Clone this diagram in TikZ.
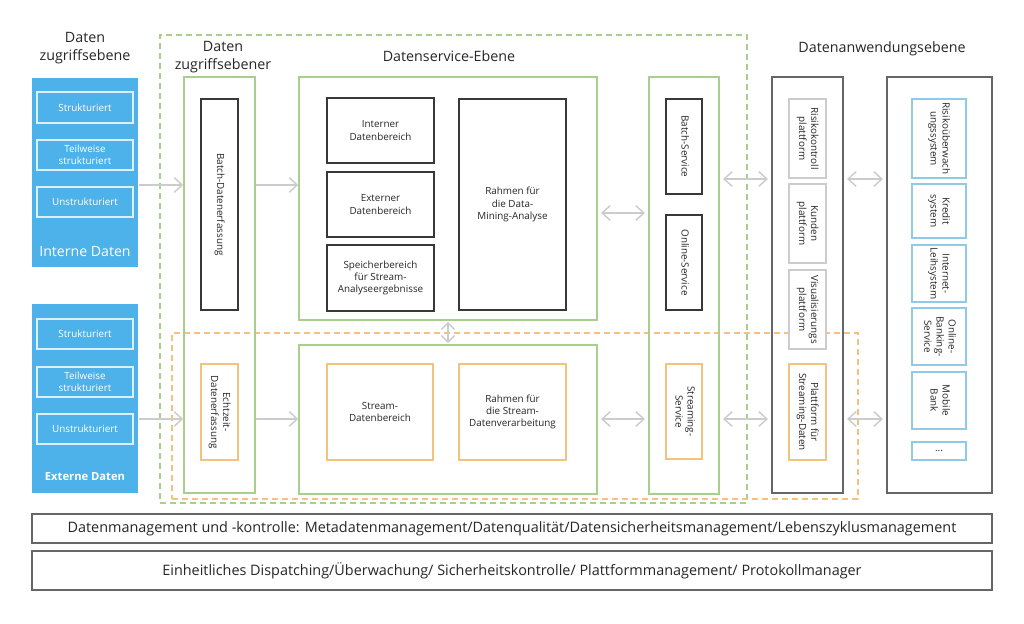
\documentclass[tikz,border=0pt]{standalone}
\usepackage{fontspec}
\setmainfont{Open Sans}
\usepackage{graphicx}
\usetikzlibrary{arrows.meta}
\definecolor{sourceblue}{HTML}{4DB2E9}
\definecolor{zonegreen}{HTML}{A8CF8C}
\definecolor{streamorange}{HTML}{F3C27E}
\definecolor{systemblue}{HTML}{8FCBE7}
\colorlet{border}{black!78}
\colorlet{frame}{black!60}
\colorlet{soft}{black!20}
\colorlet{connector}{black!20}
\colorlet{annotation}{black!85}
\newcommand\labelfont{\fontsize{7.4}{9.1}\selectfont}
\newcommand\titlefont{\fontsize{10.7}{13.5}\selectfont}
\newcommand\barfont{\fontsize{10.8}{12}\selectfont}
\newcommand\turned[1]{\rotatebox{-90}{\begin{tabular}{@{}c@{}}#1\end{tabular}}}
\newcommand\tip{Straight Barb[length=6pt, width=11pt]}

\begin{document}
\begin{tikzpicture}[x=0.75pt, y=-0.75pt, line width=0.9pt]
    \tikzset{
        % box from its two corners, in pixels
        spot/.style n args={4}{
            minimum width={(#3-#1)*0.75pt},
            minimum height={(#4-#2)*0.75pt},
            at={({(#1+#3)/2}, {(#2+#4)/2})},
        },
        source panel/.style={
            fill=sourceblue, draw=none,
            inner sep=0pt,
        },
        source box/.style={
            draw=white!80!sourceblue, text=white,
            inner sep=0pt, align=center,
            font=\labelfont,
        },
        panel caption/.style={
            text=white, inner sep=0pt,
        },
        zone/.style={
            draw=zonegreen, line width=1.1pt,
            inner sep=0pt,
        },
        zone frame/.style={
            draw=#1, dash pattern=on 4.5pt off 3pt,
            inner sep=0pt,
        },
        store/.style={
            draw=border, fill=white,
            inner sep=0pt, align=center,
            text=annotation, font=\labelfont,
        },
        stream store/.style={store, draw=streamorange},
        platform/.style={store, draw=soft},
        system/.style={store, draw=systemblue},
        app frame/.style={
            draw=frame, line width=1.1pt,
            inner sep=0pt,
        },
        layer title/.style={
            align=center, text=annotation,
            font=\titlefont,
        },
        bar/.style={
            draw=frame, line width=1.1pt,
            inner sep=0pt, text=annotation,
            font=\barfont,
        },
        flow/.style={
            draw=connector, line width=1.1pt,
            -{\tip},
        },
        both ways/.style={
            flow, {\tip}-{\tip},
            shorten <=2.5pt, shorten >=2.5pt,
        },
    }

    \useasboundingbox (0, 0) rectangle (1024, 624);

    % Dashed zones
    \node[zone frame=zonegreen, spot={160}{35}{747}{503}] (service-zone) {};
    \node[zone frame=streamorange, spot={172}{333}{858}{499}] (realtime-zone) {};

    % Sources
    \node[layer title] (source-title) at (85, 48) {Daten\\zugriffsebene};

    \node[source panel, spot={32}{78}{138}{267}] (intern-panel) {};
    \node[source box, spot={37}{92}{133}{123}] (intern-s) {Strukturiert};
    \node[source box, spot={37}{140}{133}{170}] (intern-t) {Teilweise\\strukturiert};
    \node[source box, spot={37}{187}{133}{217}] (intern-u) {Unstrukturiert};
    \node[panel caption, font=\fontsize{10.6}{12}\selectfont]
        (intern-caption) at (85, 252) {Interne Daten};

    \node[source panel, spot={32}{304}{138}{493}] (extern-panel) {};
    \node[source box, spot={37}{319}{133}{349}] (extern-s) {Strukturiert};
    \node[source box, spot={37}{367}{133}{397}] (extern-t) {Teilweise\\strukturiert};
    \node[source box, spot={37}{414}{133}{444}] (extern-u) {Unstrukturiert};
    \node[panel caption, font=\bfseries\fontsize{8.4}{10}\selectfont]
        (extern-caption) at (85, 477) {Externe Daten};

    % Access layer
    \node[layer title] (access-title) at (223, 57) {Daten\\zugriffsebener};
    \node[zone, spot={184}{77}{255}{493}] (access-col) {};
    \node[store, spot={201}{99}{238}{310}] (batch-capture)
        {\turned{Batch-Datenerfassung}};
    \node[stream store, spot={201}{364}{238}{460}] (realtime-capture)
        {\turned{Echtzeit-\\Datenerfassung}};

    % Data service layer
    \node[layer title] (service-title) at (449, 56) {Datenservice-Ebene};
    \node[zone, spot={299}{77}{597}{320}] (batch-zone) {};
    \node[store, spot={327}{98}{434}{163}] (internal-area) {Interner\\Datenbereich};
    \node[store, spot={327}{172}{434}{237}] (external-area) {Externer\\Datenbereich};
    \node[store, spot={327}{245}{434}{311}] (result-area)
        {Speicherbereich\\für Stream-\\Analyseergebnisse};
    \node[store, spot={459}{99}{566}{310}] (mining-frame)
        {Rahmen für\\die Data-\\Mining-Analyse};

    \node[zone, spot={299}{345}{597}{494}] (stream-zone) {};
    \node[stream store, spot={327}{364}{433}{460}] (stream-area) {Stream-\\Datenbereich};
    \node[stream store, spot={459}{364}{566}{460}] (stream-frame)
        {Rahmen für\\die Stream-\\Datenverarbeitung};

    \node[zone, spot={649}{77}{719}{494}] (service-col) {};
    \node[store, spot={666}{99}{702}{194}] (batch-service) {\turned{Batch-Service}};
    \node[store, spot={666}{215}{702}{310}] (online-service) {\turned{Online-Service}};
    \node[stream store, spot={666}{364}{702}{459}] (streaming-service)
        {\turned{Streaming-\\Service}};

    % Application layer
    \node[layer title] (app-title) at (882, 49) {Datenanwendungsebene};
    \node[app frame, spot={772}{77}{843}{493}] (app-left) {};
    \node[platform, spot={789}{99}{826}{178}] (risk-platform) {\turned{Risikokontroll\\plattform}};
    \node[platform, spot={789}{184}{826}{263}] (customer-platform) {\turned{Kunden\\plattform}};
    \node[platform, spot={789}{270}{826}{349}] (visual-platform)
        {\turned{Visualisierungs\\plattform}};
    \node[stream store, spot={789}{364}{826}{460}] (stream-platform)
        {\turned{Plattform für\\Streaming-Daten}};

    \node[app frame, spot={887}{77}{992}{493}] (app-right) {};
    \node[system, spot={912}{99}{966}{178}] (risk-system) {\turned{Risikoüberwach\\ungssystem}};
    \node[system, spot={912}{184}{966}{238}] (credit-system) {\turned{Kredit\\system}};
    \node[system, spot={912}{245}{966}{302}] (lending-system) {\turned{Internet-\\Leihsystem}};
    \node[system, spot={912}{308}{966}{365}] (banking-service)
        {\turned{Online-\\Banking-\\Service}};
    \node[system, spot={912}{372}{966}{429}] (mobile-bank) {\turned{Mobile\\Bank}};
    \node[system, spot={912}{442}{966}{460}] (more-systems) {...};

    % Management bars
    \node[bar, spot={32}{514}{992}{543}] (management-bar)
        {Datenmanagement und -kontrolle: Metadatenmanagement/Datenqualität/Datensicherheitsmanagement/Lebenszyklusmanagement};
    \node[bar, spot={32}{551}{992}{590}] (operations-bar)
        {Einheitliches Dispatching/Überwachung/ Sicherheitskontrolle/ Plattformmanagement/ Protokollmanager};

    % Connectors
    \coordinate (batch-row) at (0, 185);
    \coordinate (stream-row) at (0, 419);
    \coordinate (service-row) at (0, 213);
    \coordinate (app-row) at (0, 179);

    \draw[flow] (intern-panel.east |- batch-row) -- (access-col.west |- batch-row);
    \draw[flow] (extern-panel.east |- stream-row) -- (access-col.west |- stream-row);
    \draw[flow] (access-col.east |- batch-row) -- (batch-zone.west |- batch-row);
    \draw[flow] (access-col.east |- stream-row) -- (stream-zone.west |- stream-row);

    \draw[both ways, shorten <=0.8pt, shorten >=0.8pt,
        {Straight Barb[length=5pt, width=10pt]}-{Straight Barb[length=5pt, width=10pt]}]
        (batch-zone.south) -- (stream-zone.north);
    \draw[both ways] (batch-zone.east |- service-row) -- (service-col.west |- service-row);
    \draw[both ways] (stream-zone.east |- stream-row) -- (service-col.west |- stream-row);
    \draw[both ways] (service-col.east |- app-row) -- (app-left.west |- app-row);
    \draw[both ways] (service-col.east |- stream-row) -- (app-left.west |- stream-row);
    \draw[both ways] (app-left.east |- app-row) -- (app-right.west |- app-row);
    \draw[both ways] (app-left.east |- stream-row) -- (app-right.west |- stream-row);
\end{tikzpicture}
\end{document}
